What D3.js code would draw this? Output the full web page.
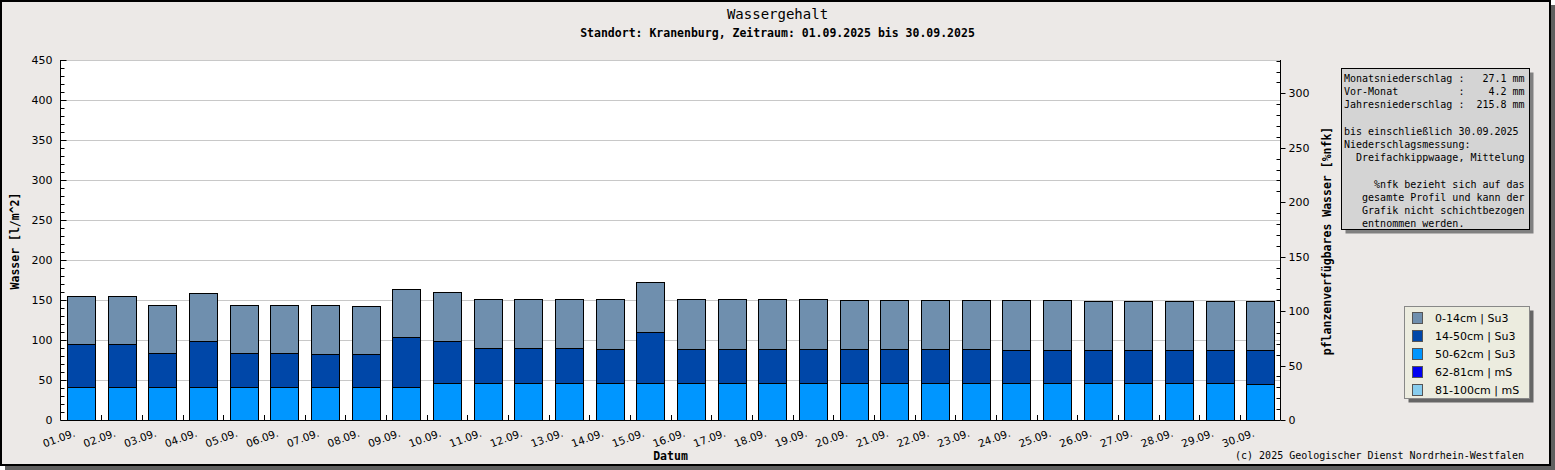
<!DOCTYPE html>
<html>
<head>
<meta charset="utf-8">
<script src="https://cdn.jsdelivr.net/npm/d3@7"></script>
<style>
  html, body { margin: 0; padding: 0; background: #fff; }
  svg { display: block; }
  text { white-space: pre; }
</style>
</head>
<body>
<div id="chart"></div>
<script>
// values (l/m^2 per layer)
const dates = ['01.09.','02.09.','03.09.','04.09.','05.09.','06.09.','07.09.','08.09.','09.09.','10.09.',
               '11.09.','12.09.','13.09.','14.09.','15.09.','16.09.','17.09.','18.09.','19.09.','20.09.',
               '21.09.','22.09.','23.09.','24.09.','25.09.','26.09.','27.09.','28.09.','29.09.','30.09.'];
const layer0_14   = [60.0,60.0,60.0,60.0,60.0,60.0,61.2,60.0,60.0,61.3,61.2,61.2,61.2,62.5,62.5,
                     62.5,62.5,62.5,62.5,61.3,61.3,61.3,61.3,62.5,62.5,61.2,61.2,61.2,61.2,61.2];
const layer14_50  = [52.9,52.9,41.6,56.6,41.6,41.6,40.4,40.4,61.6,51.6,42.9,42.9,42.9,41.6,62.9,
                     41.6,41.6,41.6,41.6,42.5,42.5,42.5,42.5,41.3,41.3,41.3,41.3,41.3,41.3,42.5];
const layer50_62  = [41.7,41.7,41.7,41.7,41.7,41.7,41.7,41.7,41.7,46.7,46.7,46.7,46.7,46.7,46.7,
                     46.7,46.7,46.7,46.7,45.8,45.8,45.8,45.8,45.8,45.8,45.8,45.8,45.8,45.8,44.6];
const layer62_81  = [0,0,0,0,0,0,0,0,0,0,0,0,0,0,0,0,0,0,0,0,0,0,0,0,0,0,0,0,0,0];
const layer81_100 = [0,0,0,0,0,0,0,0,0,0,0,0,0,0,0,0,0,0,0,0,0,0,0,0,0,0,0,0,0,0];

const legendNames = ['0-14cm | Su3','14-50cm | Su3','50-62cm | Su3','62-81cm | mS','81-100cm | mS'];
const layerColors = ['#6f8fae','#0047a8','#0096ff','#0000f0','#87cdee'];

const infoLines = [
  'Monatsniederschlag :   27.1 mm',
  'Vor-Monat          :    4.2 mm',
  'Jahresniederschlag :  215.8 mm',
  '',
  'bis einschließlich 30.09.2025',
  'Niederschlagsmessung:',
  '  Dreifachkippwaage, Mittelung',
  '',
  '     %nfk bezieht sich auf das',
  '   gesamte Profil und kann der',
  '   Grafik nicht schichtbezogen',
  '   entnommen werden.'
];

const leftTicks  = [0,50,100,150,200,250,300,350,400,450];
const rightTicks = [0,50,100,150,200,250,300];

const W = 1555, H = 470;
const plot = { left: 60.5, right: 1280.5, top: 60, bottom: 420 };
const mono = '"DejaVu Sans Mono", monospace';
const sans = '"DejaVu Sans", sans-serif';

const svg = d3.select('#chart').append('svg')
  .attr('width', W).attr('height', H);

// frame with shadow
svg.append('rect').attr('x',5).attr('y',5).attr('width',W-5).attr('height',H-5).attr('fill','#606060');
svg.append('rect').attr('x',1).attr('y',1).attr('width',1549).attr('height',464)
  .attr('fill','#ece9e7').attr('stroke','#000').attr('stroke-width',2);

svg.append('text').attr('x',777.5).attr('y',19).attr('text-anchor','middle')
  .style('font-family',mono).style('font-size','14px').text('Wassergehalt');
svg.append('text').attr('x',777.5).attr('y',37).attr('text-anchor','middle')
  .style('font-family',mono).style('font-size','11.5px').style('font-weight','bold')
  .text('Standort: Kranenburg, Zeitraum: 01.09.2025 bis 30.09.2025');

// scales
const x = d3.scaleBand().domain(dates).range([plot.left, plot.right])
  .paddingInner(0.32).paddingOuter(0.16);
const y = d3.scaleLinear().domain([0,450]).range([plot.bottom, plot.top]);
const yR = d3.scaleLinear().domain([0, 450*0.8/1.0889]).range([plot.bottom, plot.top]);

svg.append('rect').attr('x',plot.left).attr('y',plot.top)
  .attr('width',plot.right-plot.left).attr('height',plot.bottom-plot.top).attr('fill','#fff');

// grid
svg.append('g').selectAll('line').data(leftTicks).join('line')
  .attr('x1',plot.left).attr('x2',plot.right)
  .attr('y1',d => Math.round(y(d))+0.5).attr('y2',d => Math.round(y(d))+0.5)
  .attr('stroke','#c8c8c8');

// stacked bars
const rows = dates.map((d,i) => ({
  date: d, l81: layer81_100[i], l62: layer62_81[i], l50: layer50_62[i], l14: layer14_50[i], l0: layer0_14[i]
}));
const keys = ['l81','l62','l50','l14','l0'];
const keyColor = { l0: layerColors[0], l14: layerColors[1], l50: layerColors[2], l62: layerColors[3], l81: layerColors[4] };
const series = d3.stack().keys(keys)(rows);

svg.append('g').selectAll('g').data(series).join('g')
  .attr('fill', s => keyColor[s.key])
  .selectAll('rect').data(s => s.filter(p => p[1]-p[0] > 0)).join('rect')
    .attr('x', p => Math.round(x(p.data.date))+0.5)
    .attr('width', Math.round(x.bandwidth()))
    .attr('y', p => Math.round(y(p[1]))+0.5)
    .attr('height', p => Math.round(y(p[0])) - Math.round(y(p[1])))
    .attr('stroke','#000').attr('stroke-width',1);

// left axis
const gL = svg.append('g').attr('transform',`translate(${plot.left},0)`);
gL.append('line').attr('y1',plot.top).attr('y2',plot.bottom).attr('stroke','#000');
gL.selectAll('.minor').data(d3.range(0,451,10)).join('line')
  .attr('x1',0).attr('x2', d => d%50 ? 4 : 6)
  .attr('y1',d => Math.round(y(d))+0.5).attr('y2',d => Math.round(y(d))+0.5).attr('stroke','#000');
gL.selectAll('text').data(leftTicks).join('text')
  .attr('x',-8).attr('y',d => y(d)+4).attr('text-anchor','end')
  .style('font-family',sans).style('font-size','11px').text(d => d);

// right axis
const gR = svg.append('g').attr('transform',`translate(${plot.right},0)`);
gR.append('line').attr('y1',plot.top).attr('y2',plot.bottom).attr('stroke','#000');
gR.selectAll('line.t').data(d3.range(0,331,10)).join('line')
  .attr('x1', d => d%50 ? -4 : 0).attr('x2', d => d%50 ? 0 : 5)
  .attr('y1',d => Math.round(yR(d))+0.5).attr('y2',d => Math.round(yR(d))+0.5).attr('stroke','#000');
gR.selectAll('text').data(rightTicks).join('text')
  .attr('x',8).attr('y',d => yR(d)+4)
  .style('font-family',sans).style('font-size','11px').text(d => d);

// x axis
const gX = svg.append('g').attr('transform',`translate(0,${plot.bottom})`);
gX.append('line').attr('x1',plot.left).attr('x2',plot.right).attr('y1',0.5).attr('y2',0.5).attr('stroke','#000');
gX.selectAll('line.t').data(dates.slice(1)).join('line')
  .attr('x1', d => Math.round(x(d) - x.step()*x.paddingInner()/2)+0.5)
  .attr('x2', d => Math.round(x(d) - x.step()*x.paddingInner()/2)+0.5)
  .attr('y1',0).attr('y2',-5).attr('stroke','#000');
gX.selectAll('text').data(dates).join('text')
  .attr('transform', d => `translate(${x(d)+x.bandwidth()/2-5},16) rotate(-20)`)
  .attr('text-anchor','end')
  .style('font-family',sans).style('font-size','10.5px').text(d => d);

svg.append('text').attr('x',(plot.left+plot.right)/2).attr('y',460).attr('text-anchor','middle')
  .style('font-family',mono).style('font-size','11.5px').style('font-weight','bold').text('Datum');

svg.append('text').attr('transform','translate(19,241) rotate(-90)').attr('text-anchor','middle')
  .style('font-family',mono).style('font-size','11.5px').style('font-weight','bold').text('Wasser [l/m^2]');
svg.append('text').attr('transform','translate(1331,241) rotate(-90)').attr('text-anchor','middle')
  .style('font-family',mono).style('font-size','11.5px').style('font-weight','bold')
  .text('pflanzenverfügbares Wasser [%nfk]');

// info box
const info = { x: 1341.5, y: 68.5, w: 188, h: 161 };
svg.append('rect').attr('x',info.x+4).attr('y',info.y+4).attr('width',info.w).attr('height',info.h).attr('fill','#808080');
svg.append('rect').attr('x',info.x).attr('y',info.y).attr('width',info.w).attr('height',info.h)
  .attr('fill','#d4d4d4').attr('stroke','#000');
svg.append('g').selectAll('text').data(infoLines).join('text')
  .attr('x',1344).attr('y',(d,i) => 82 + i*13.2)
  .attr('xml:space','preserve')
  .style('font-family',mono).style('font-size','10px').text(d => d);

// legend
const leg = { x: 1404.5, y: 306.5, w: 125, h: 92 };
svg.append('rect').attr('x',leg.x+4).attr('y',leg.y+4).attr('width',leg.w).attr('height',leg.h).attr('fill','#666');
svg.append('rect').attr('x',leg.x).attr('y',leg.y).attr('width',leg.w).attr('height',leg.h)
  .attr('fill','#ececdf').attr('stroke','#888');
const li = svg.append('g').selectAll('g').data(legendNames).join('g')
  .attr('transform',(d,i) => `translate(0,${318 + i*18})`);
li.append('rect').attr('x',1412.5).attr('y',-5.5).attr('width',10).attr('height',11)
  .attr('fill',(d,i) => layerColors[i]).attr('stroke','#555');
li.append('text').attr('x',1435).attr('y',4)
  .style('font-family',sans).style('font-size','11px').text(d => d);

svg.append('text').attr('x',1524).attr('y',459).attr('text-anchor','end')
  .style('font-family',mono).style('font-size','10px')
  .text('(c) 2025 Geologischer Dienst Nordrhein-Westfalen');
</script>
</body>
</html>
